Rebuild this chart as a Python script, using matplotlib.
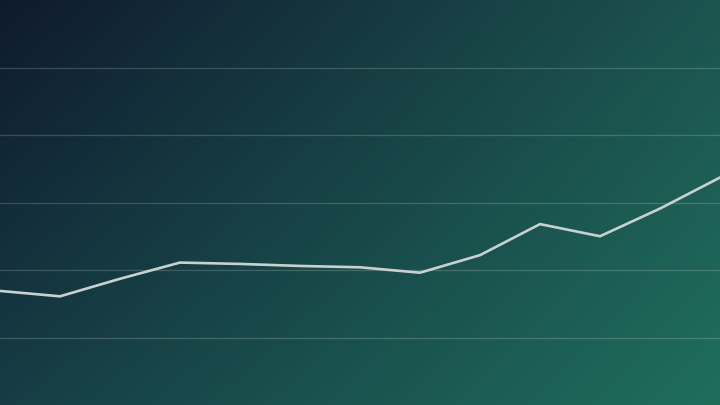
import numpy as np
import matplotlib
matplotlib.use("Agg")
import matplotlib.pyplot as plt
from matplotlib.colors import to_rgb

# ===== Data =====
periods = list(range(13))
values = [16.9, 16.1, 18.7, 21.1, 20.9, 20.6, 20.4, 19.6, 22.2, 26.8, 25.0, 29.1, 33.7]
grid_levels = [10, 20, 30, 40, 50]

# background corner colours (top-left, top-right, bottom-left, bottom-right)
c_tl = np.array(to_rgb("#0f1a2e"))
c_tr = np.array(to_rgb("#1c5450"))
c_bl = np.array(to_rgb("#163d45"))
c_br = np.array(to_rgb("#1f6e5c"))


def gradient_image(w=360, h=200):
    u = np.linspace(0, 1, w)[None, :, None]
    v = np.linspace(0, 1, h)[:, None, None]
    top = c_tl * (1 - u) + c_tr * u
    bot = c_bl * (1 - u) + c_br * u
    return top * (1 - v) + bot * v


fig = plt.figure(figsize=(7.2, 4.05), dpi=100)
ax = fig.add_axes([0, 0, 1, 1])
ax.set_xlim(0, 12)
ax.set_ylim(0, 60)

# gradient backdrop fills the axes
ax.imshow(gradient_image(), extent=[0, 12, 0, 60], origin="upper",
          aspect="auto", interpolation="bilinear", zorder=0)

for lvl in grid_levels:
    ax.axhline(lvl, color="white", alpha=0.18, linewidth=0.9, zorder=1)

ax.plot(periods, values, color="#c9d1d0", linewidth=1.9,
        solid_joinstyle="miter", zorder=2)

ax.axis("off")
fig.savefig("out.png", dpi=100)
